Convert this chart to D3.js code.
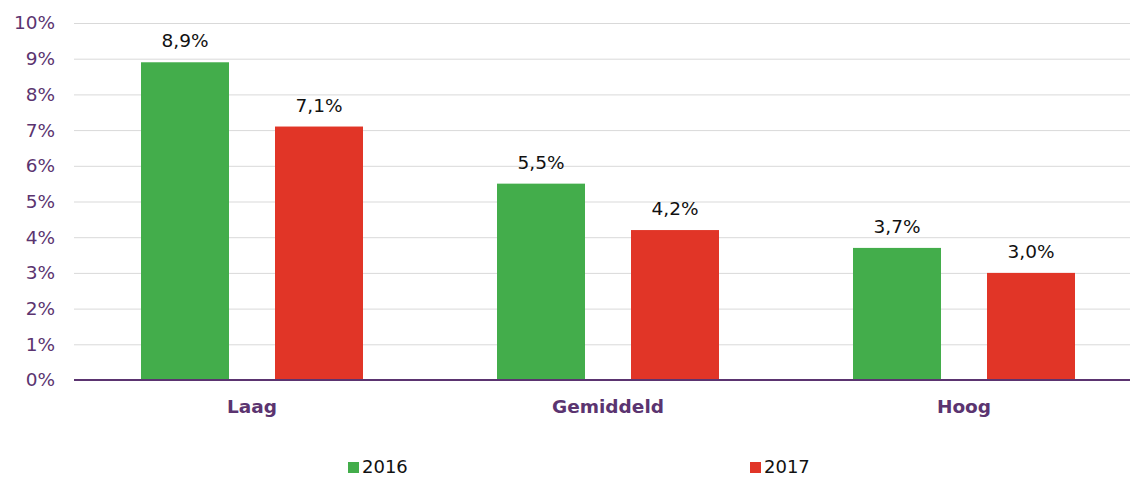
<!DOCTYPE html>
<html><head><meta charset="utf-8">
<script src="https://cdn.jsdelivr.net/npm/d3@7"></script>
<style>body{margin:0;background:#fff;}svg{display:block;font-family:"DejaVu Sans",Verdana,sans-serif;}</style>
</head><body>
<svg id="c" width="1130" height="477"></svg>
<script>
const categories = ["Laag", "Gemiddeld", "Hoog"];
const seriesNames = ["2016", "2017"];
const values2016 = [8.9, 5.5, 3.7];
const values2017 = [7.1, 4.2, 3.0];
const yTicks = [0,1,2,3,4,5,6,7,8,9,10];
const colors = ["#43ad4b", "#e13527"];

const svg = d3.select("#c");
const x0 = d3.scaleBand().domain(categories).range([74, 1142]).paddingInner(0).paddingOuter(0);
const x1 = d3.scaleBand().domain(seriesNames).range([67, 289]).paddingInner(46/134);
const y = d3.scaleLinear().domain([0, 10]).range([380, 23]);
const fmt = v => d3.format(".1f")(v).replace(".", ",") + "%";

// grid
svg.append("g").selectAll("line").data(yTicks.filter(t => t > 0)).join("line")
  .attr("x1", 74).attr("x2", 1130).attr("y1", d => y(d) + 0.5).attr("y2", d => y(d) + 0.5)
  .attr("stroke", "#d9d9d9").attr("stroke-width", 1);

// y axis labels
const yAxis = d3.axisLeft(y).tickValues(yTicks).tickFormat(d => d + "%").tickSize(0).tickPadding(0);
const ya = svg.append("g").attr("transform", "translate(55,0)").call(yAxis);
ya.select(".domain").remove();
ya.selectAll("text").attr("fill", "#5b3470").attr("font-size", 18.5).attr("font-family", "DejaVu Sans, Verdana, sans-serif");

const data = categories.map((c, i) => ({cat: c, vals: [{s: "2016", v: values2016[i]}, {s: "2017", v: values2017[i]}]}));

const groups = svg.append("g").selectAll("g").data(data).join("g")
  .attr("transform", d => `translate(${x0(d.cat)},0)`);
groups.selectAll("rect").data(d => d.vals).join("rect")
  .attr("x", d => x1(d.s)).attr("width", x1.bandwidth())
  .attr("y", d => y(d.v)).attr("height", d => y(0) - y(d.v))
  .attr("fill", (d, i) => colors[i]);
groups.selectAll("text").data(d => d.vals).join("text")
  .attr("x", d => x1(d.s) + x1.bandwidth() / 2).attr("y", d => y(d.v) - 15)
  .attr("text-anchor", "middle").attr("font-size", 18.5).attr("fill", "#111")
  .text(d => fmt(d.v));

// x axis line
svg.append("line").attr("x1", 74).attr("x2", 1130).attr("y1", 380).attr("y2", 380)
  .attr("stroke", "#5b3470").attr("stroke-width", 2);

// category labels
const xAxis = d3.axisBottom(x0).tickSize(0).tickPadding(0);
const xa = svg.append("g").attr("transform", "translate(0,400)").call(xAxis);
xa.select(".domain").remove();
xa.selectAll("text").attr("fill", "#5b3470").attr("font-size", 18.5).attr("font-weight", "bold")
  .attr("font-family", "DejaVu Sans, Verdana, sans-serif").attr("dy", "0.71em");

// legend
const legendX = [348, 750];
const lg = svg.append("g").selectAll("g").data(seriesNames).join("g")
  .attr("transform", (d, i) => `translate(${legendX[i]},0)`);
lg.append("rect").attr("x", 0).attr("y", 462).attr("width", 11).attr("height", 11).attr("fill", (d, i) => colors[i]);
lg.append("text").attr("x", 14).attr("y", 473).attr("font-size", 18).attr("fill", "#111").text(d => d);
</script>
</body></html>
